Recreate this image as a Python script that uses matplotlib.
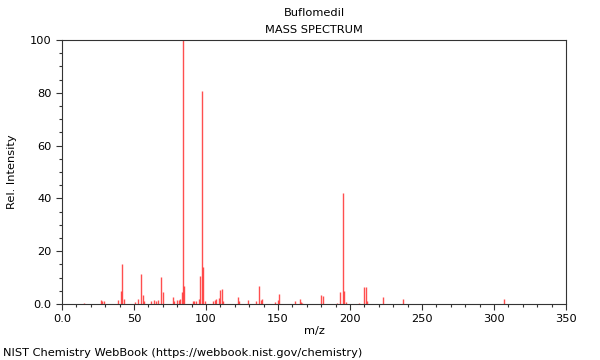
import numpy as np
import matplotlib
matplotlib.use("Agg")
import matplotlib.pyplot as plt
from matplotlib.ticker import MultipleLocator, FuncFormatter

# peaks (m/z, relative intensity)
mz = [15, 27, 28, 29, 39, 41, 42, 43, 51, 53, 55, 56, 57,
      62, 64, 65, 67, 69, 70, 77, 78, 80, 81, 82, 83, 84, 85,
      91, 92, 93, 95, 96, 97, 98, 99, 105, 106, 107, 109, 110, 111, 112,
      122, 123, 129, 135, 137, 138, 139, 148, 150, 151, 162, 165, 166, 167,
      180, 181, 191, 193, 195, 196, 197, 206, 210, 211, 212, 223, 237, 307]
intensity = [0.5, 1.5, 1.2, 1.0, 1.5, 5.0, 15.0, 2.0, 0.8, 2.0, 11.2, 3.4, 1.0,
             1.0, 1.5, 1.2, 1.5, 10.2, 4.4, 2.5, 1.0, 1.5, 1.5, 2.0, 4.4, 100.0, 6.9,
             1.0, 1.0, 1.2, 2.0, 10.5, 80.7, 14.0, 1.0, 1.0, 1.5, 2.0, 2.3, 5.3, 5.7, 1.0,
             2.6, 1.0, 1.5, 1.0, 6.8, 1.5, 2.0, 0.8, 1.5, 3.8, 1.0, 1.9, 0.8, 0.5,
             3.4, 3.0, 0.5, 4.4, 42.2, 4.9, 0.8, 0.3, 6.5, 6.5, 1.0, 2.5, 1.8, 1.8]

title = "Buflomedil"
subtitle = "MASS SPECTRUM"
source = "NIST Chemistry WebBook (https://webbook.nist.gov/chemistry)"

plt.rcParams['font.family'] = 'DejaVu Sans'
plt.rcParams['font.size'] = 8

fig = plt.figure(figsize=(6, 3.6), dpi=100)
ax = fig.add_axes([62/600, 1 - 304/360, 504/600, 264/360])

ax.vlines(mz, 0, intensity, colors='#ff3030', linewidth=1.0, alpha=0.85)

ax.set_xlim(0, 350)
ax.set_ylim(0, 100)
ax.xaxis.set_major_locator(MultipleLocator(50))
ax.xaxis.set_minor_locator(MultipleLocator(10))
ax.yaxis.set_major_locator(MultipleLocator(20))
ax.yaxis.set_minor_locator(MultipleLocator(5))
fmt = FuncFormatter(lambda v, p: '0.0' if v == 0 else '%g' % v)
ax.xaxis.set_major_formatter(fmt)
ax.yaxis.set_major_formatter(fmt)
ax.tick_params(which='major', length=4, width=0.8, color='#333333', labelsize=8.2)
ax.tick_params(which='minor', length=2.5, width=0.8, color='#333333')
for s in ax.spines.values():
    s.set_color('#333333')
    s.set_linewidth(0.8)

ax.set_xlabel('m/z', fontsize=8.2, labelpad=1)
ax.set_ylabel('Rel. Intensity', fontsize=8.2, labelpad=9)

fig.text(314/600, 1 - 13/360, title, ha='center', va='center', fontsize=8.2)
fig.text(314/600, 1 - 30/360, subtitle, ha='center', va='center', fontsize=8.2)
fig.text(3/600, 1 - 353/360, source, ha='left', va='center', fontsize=8.2)

fig.savefig('out.png', dpi=100)
